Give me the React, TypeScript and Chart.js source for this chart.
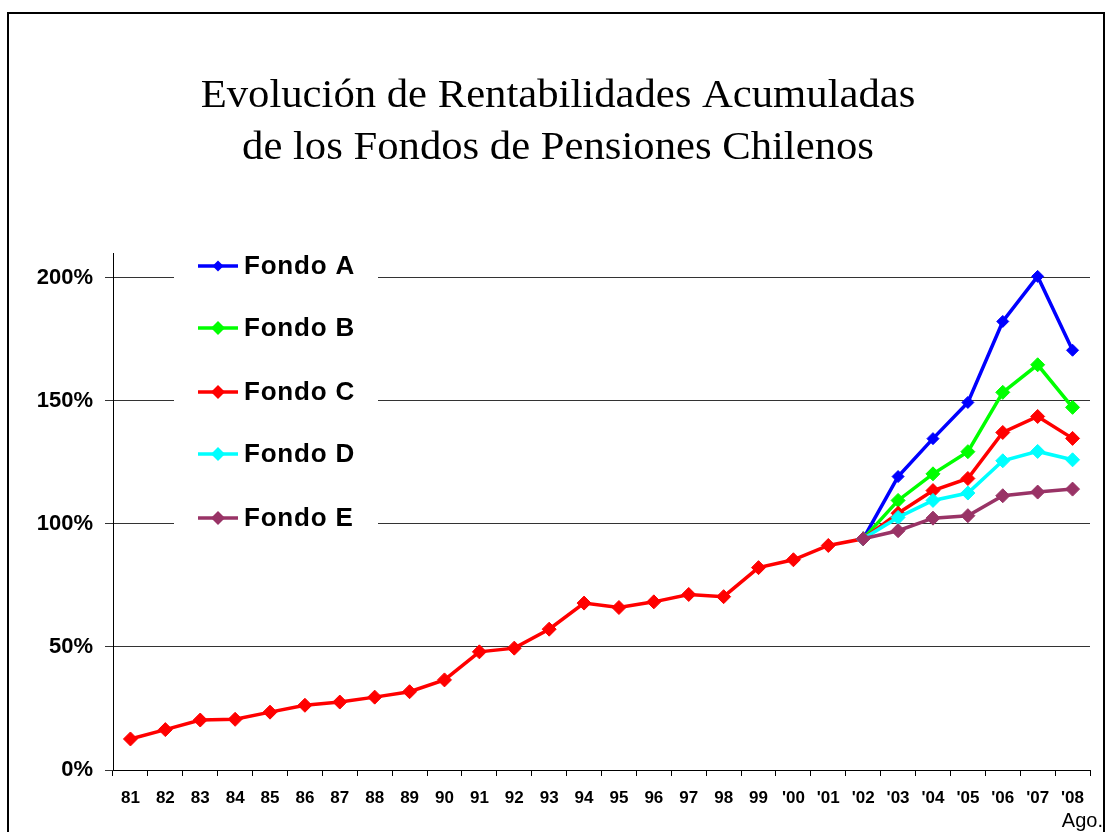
import React, { useEffect, useRef } from 'react';
import { Chart, registerables } from 'chart.js';

Chart.register(...registerables);

const years: string[] = [
  '81', '82', '83', '84', '85', '86', '87', '88', '89', '90', '91', '92', '93', '94',
  '95', '96', '97', '98', '99', "'00", "'01", "'02", "'03", "'04", "'05", "'06", "'07", "'08",
];

const pre = (n: number) => Array.from({ length: n }, () => null as number | null);

const fondoA: (number | null)[] = [...pre(21), 93.9, 119.2, 134.6, 149.3, 182.2, 200.5, 170.5];
const fondoB: (number | null)[] = [...pre(21), 93.9, 109.5, 120.3, 129.3, 153.4, 164.6, 147.3];
const fondoC: (number | null)[] = [
  12.6, 16.4, 20.3, 20.6, 23.5, 26.3, 27.6, 29.6, 31.8, 36.6, 48.0, 49.5, 57.2, 67.8,
  66.0, 68.3, 71.3, 70.4, 82.2, 85.4, 91.2, 93.9, 104.3, 113.5, 118.4, 137.1, 143.6, 134.7,
];
const fondoD: (number | null)[] = [...pre(21), 93.9, 102.6, 109.5, 112.5, 125.6, 129.4, 126.0];
const fondoE: (number | null)[] = [...pre(21), 93.9, 97.2, 102.3, 103.3, 111.4, 112.9, 114.1];

const seriesNames = ['Fondo A', 'Fondo B', 'Fondo C', 'Fondo D', 'Fondo E'];
const seriesColors = ['#0000FF', '#00FF00', '#FF0000', '#00FFFF', '#993366'];
const seriesData = [fondoA, fondoB, fondoC, fondoD, fondoE];

const titleLines = ['Evolución de Rentabilidades Acumuladas', 'de los Fondos de Pensiones Chilenos'];
const yTicks = [0, 50, 100, 150, 200];
const xNote = 'Ago.';

const SANS = '"Liberation Sans", Arial, sans-serif';
const SERIF = '"Liberation Serif", "Times New Roman", serif';

function diamond(ctx: CanvasRenderingContext2D, x: number, y: number, r: number, color: string) {
  ctx.beginPath();
  ctx.moveTo(x - r, y);
  ctx.lineTo(x, y - r);
  ctx.lineTo(x + r, y);
  ctx.lineTo(x, y + r);
  ctx.closePath();
  ctx.fillStyle = color;
  ctx.fill();
}

const decorPlugin = {
  id: 'decor',
  beforeDraw(chart: any) {
    const ctx: CanvasRenderingContext2D = chart.ctx;
    ctx.save();
    ctx.fillStyle = '#ffffff';
    ctx.fillRect(0, 0, chart.width, chart.height);
    ctx.strokeStyle = '#000';
    ctx.lineWidth = 2;
    ctx.beginPath();
    ctx.moveTo(8, 840);
    ctx.lineTo(8, 13);
    ctx.lineTo(1104, 13);
    ctx.lineTo(1104, 840);
    ctx.stroke();
    ctx.fillStyle = '#000';
    ctx.font = `40px ${SERIF}`;
    ctx.textAlign = 'center';
    ctx.textBaseline = 'alphabetic';
    ctx.translate(558, 0);
    ctx.scale(1.067, 1);
    ctx.fillText(titleLines[0], 0, 107);
    ctx.fillText(titleLines[1], 0, 159);
    ctx.restore();
  },
  afterDatasetsDraw(chart: any) {
    const ctx: CanvasRenderingContext2D = chart.ctx;
    ctx.save();
    ctx.fillStyle = '#ffffff';
    ctx.fillRect(174, 246, 204, 292);
    const ys = [266, 328, 392, 454, 518];
    seriesNames.forEach((name, i) => {
      const y = ys[i];
      ctx.strokeStyle = seriesColors[i];
      ctx.lineWidth = 3.5;
      ctx.beginPath();
      ctx.moveTo(198, y);
      ctx.lineTo(238, y);
      ctx.stroke();
      diamond(ctx, 218, y, i === 0 ? 5.5 : 7, seriesColors[i]);
      ctx.fillStyle = '#000';
      ctx.font = `bold 26px ${SANS}`;
      (ctx as any).letterSpacing = '0.8px';
      ctx.textAlign = 'left';
      ctx.textBaseline = 'middle';
      ctx.fillText(name, 244, y + 1);
      (ctx as any).letterSpacing = '0px';
    });
    ctx.restore();
  },
  afterDraw(chart: any) {
    const ctx: CanvasRenderingContext2D = chart.ctx;
    ctx.save();
    ctx.fillStyle = '#000';
    ctx.font = `20px ${SANS}`;
    ctx.textAlign = 'right';
    ctx.textBaseline = 'alphabetic';
    ctx.fillText(xNote, 1103, 827);
    ctx.restore();
  },
};

export default function App() {
  const ref = useRef<HTMLCanvasElement>(null);

  useEffect(() => {
    const order = [5, 4, 3, 2, 1];
    const chart = new Chart(ref.current as HTMLCanvasElement, {
      type: 'line',
      data: {
        labels: years,
        datasets: seriesData.map((d, i) => ({
          label: seriesNames[i],
          data: d,
          borderColor: seriesColors[i],
          backgroundColor: seriesColors[i],
          pointBackgroundColor: seriesColors[i],
          pointBorderColor: seriesColors[i],
          borderWidth: 3.5,
          pointStyle: 'rectRot',
          pointRadius: i === 0 ? 6 : 7,
          pointBorderWidth: 1,
          tension: 0,
          order: order[i],
          spanGaps: false,
        })),
      },
      options: {
        animation: false,
        responsive: false,
        events: [],
        layout: { padding: { top: 253, right: 15, left: 0, bottom: 0 } },
        plugins: {
          legend: { display: false },
          title: { display: false },
          tooltip: { enabled: false },
        },
        scales: {
          x: {
            type: 'category',
            offset: true,
            grid: {
              offset: true,
              drawOnChartArea: false,
              drawTicks: true,
              tickLength: 6,
              color: '#000',
            },
            border: { color: '#000', width: 1 },
            ticks: {
              color: '#000',
              font: { family: SANS, size: 17, weight: 'bold' },
              padding: 12,
              maxRotation: 0,
              minRotation: 0,
              autoSkip: false,
            },
            afterFit: (scale: any) => {
              scale.height = 62;
            },
          },
          y: {
            min: 0,
            max: 210,
            afterBuildTicks: (scale: any) => {
              scale.ticks = yTicks.map((v) => ({ value: v }));
            },
            grid: {
              color: '#333',
              lineWidth: 1,
              tickLength: 8,
              drawTicks: true,
            },
            border: { color: '#000', width: 1 },
            ticks: {
              color: '#000',
              font: { family: SANS, size: 22, weight: 'bold' },
              padding: 12,
              callback: (v: any) => `${v}%`,
            },
            afterFit: (scale: any) => {
              scale.width = 113;
            },
          },
        },
      },
      plugins: [decorPlugin],
    } as any);
    return () => chart.destroy();
  }, []);

  return (
    <div style={{ position: 'fixed', left: 0, top: 0, width: 1105, height: 832, background: '#fff' }}>
      <canvas ref={ref} width={1105} height={832} style={{ display: 'block', width: 1105, height: 832 }} />
    </div>
  );
}
